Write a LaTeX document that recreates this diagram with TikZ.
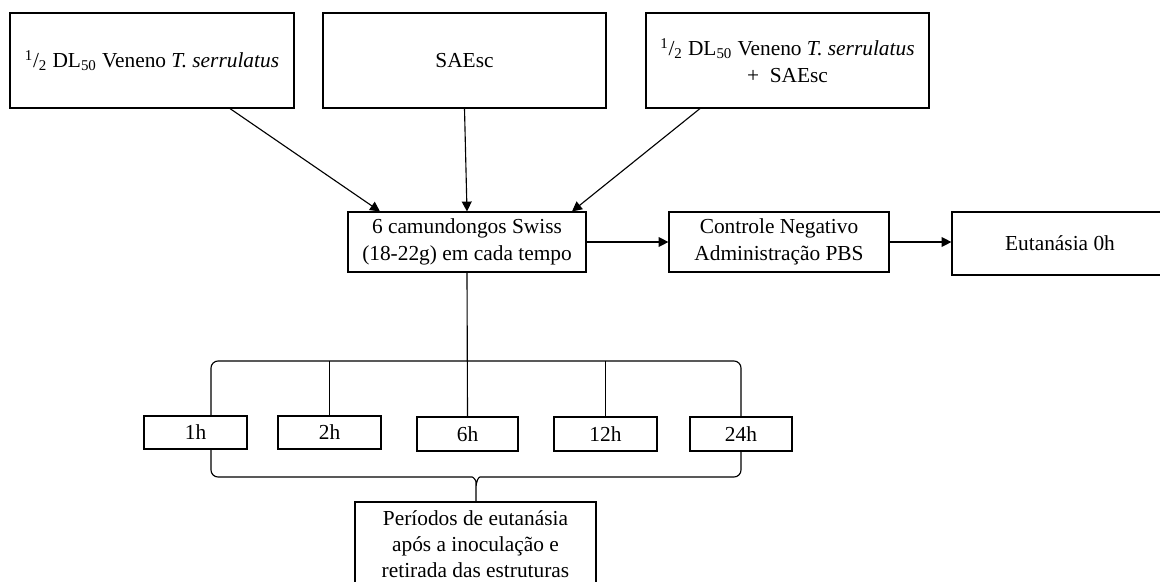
\documentclass[tikz,border=0pt]{standalone}
\usepackage{fontspec}
\setmainfont{Liberation Serif}
\usepackage{tikz}
\usetikzlibrary{positioning}
\usetikzlibrary{arrows.meta}

\begin{document}
\begin{tikzpicture}[x=0.025cm, y=-0.025cm,
    caixa/.style={draw, line width=0.8pt, fill=white, align=center, inner sep=2pt,
        font=\fontsize{15.2}{19.2}\selectfont},
    seta/.style={line width=0.8pt, -{Triangle[length=7pt,width=7pt]}},
    linha/.style={line width=0.8pt}]
\useasboundingbox (0,0) rectangle (1160,581);
\clip (0,0) rectangle (1160,581);

% grupos
\node at (152,60.5) [caixa, minimum width=7.1cm, minimum height=2.375cm] (veneno) {\textsuperscript{1}/\textsubscript{2} DL\textsubscript{50} Veneno \textit{T. serrulatus}};
\node at (464.5,60.5) [caixa, minimum width=7.075cm, minimum height=2.375cm] (saesc) {SAEsc};
\node at (787.5,60.5) [caixa, minimum width=7.075cm, minimum height=2.375cm] (mistura) {\textsuperscript{1}/\textsubscript{2} DL\textsubscript{50} Veneno \textit{T. serrulatus}\\+\ \ SAEsc};

\node at (467,242) [caixa, minimum width=5.95cm, minimum height=1.5cm] (camund) {6 camundongos Swiss\\(18-22g) em cada tempo};
\node at (779,242) [caixa, minimum width=5.5cm, minimum height=1.5cm] (controle) {Controle Negativo\\Administração PBS};
\node at (1060,243.5) [caixa, minimum width=5.4cm, minimum height=1.575cm] (eut0) {Eutanásia 0h};

% chave
\coordinate (topo) at (476,361);
\draw[linha, rounded corners=5pt] (476,503) -- (476,489) .. controls (476,480) and (473,477) .. (465,477) -- (211,477) -- (211,361) -- (741,361) -- (741,477) -- (487,477) .. controls (479,477) and (476,480) .. (476,489);

% tempos
\node at (195.5,432.5) [caixa, minimum width=2.575cm, minimum height=0.825cm] (h1) {1h};
\node at (329.5,432.5) [caixa, minimum width=2.575cm, minimum height=0.825cm] (h2) {2h};
\node at (467.5,434) [caixa, minimum width=2.525cm, minimum height=0.85cm] (h6) {6h};
\node at (605.5,434) [caixa, minimum width=2.575cm, minimum height=0.85cm] (h12) {12h};
\node at (741,434) [caixa, minimum width=2.55cm, minimum height=0.85cm] (h24) {24h};

\node at (475.5,544) [caixa, minimum width=6.025cm, minimum height=2.1cm,
    font=\fontsize{15.2}{18.6}\selectfont] (periodos) {Períodos de eutanásia\\após a inoculação e\\retirada das estruturas};

% setas
\draw[seta] ([xshift=1.95cm]veneno.south) -- ([xshift=-2.175cm]camund.north);
\draw[seta] (saesc.south) -- (camund.north);
\draw[seta] ([xshift=-2.1875cm]mistura.south) -- ([xshift=2.625cm]camund.north);
\draw[seta] (camund.east) -- (controle.west);
\draw[seta] (controle.east) -- (controle.east -| eut0.west);

\draw[linha] (camund.south) -- (h6.north);
\draw[linha] (h2.north |- topo) -- (h2.north);
\draw[linha] (h12.north |- topo) -- (h12.north);

\end{tikzpicture}
\end{document}
